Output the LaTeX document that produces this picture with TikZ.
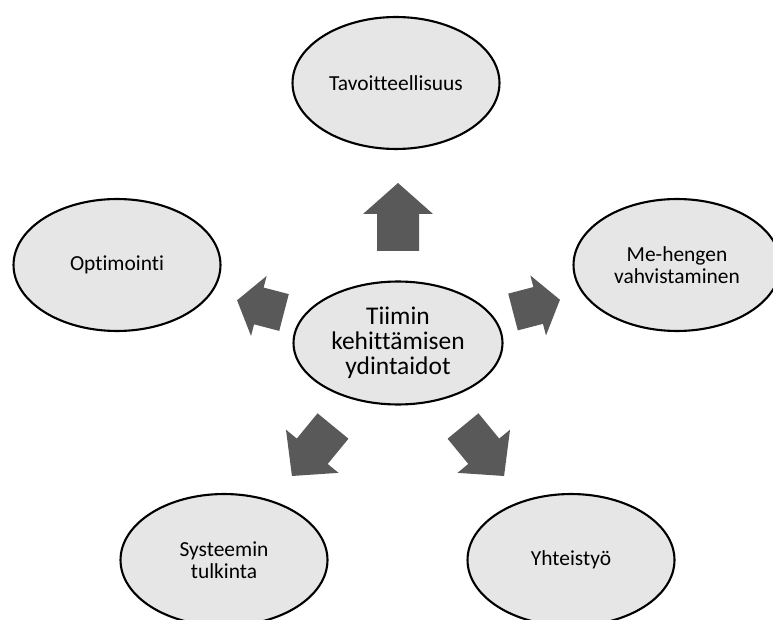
\documentclass[tikz,border=0pt]{standalone}
\usepackage{fontspec}
\setmainfont{Carlito}[Ligatures={NoCommon}]
\usetikzlibrary{shapes.geometric}

\definecolor{ovalfill}{RGB}{230,230,230}
\definecolor{arrowfill}{RGB}{89,89,89}

\begin{document}
\begin{tikzpicture}[x=0.02cm,y=0.02cm,
        skill/.style={ellipse,draw=black,line width=1.2pt,fill=ovalfill,
            minimum width=4.14cm,minimum height=2.64cm,inner sep=0pt,align=center,
            font=\fontsize{12.2}{12.5}\selectfont},
        core/.style={skill,minimum width=4.18cm,minimum height=2.46cm,
            font=\fontsize{14.5}{14.2}\selectfont},
        blockarrow/.style={fill=arrowfill}]
        \useasboundingbox (0,0) rectangle (773,619);
        \clip (0,0) rectangle (773,619);

        \node[core]  (ydin)     at (398,276) {Tiimin\\kehittämisen\\ydintaidot};
        \node[skill] (tavoite)  at (396,536) {Tavoitteellisuus};
        \node[skill] (optim)    at (117,354) {Optimointi};
        \node[skill] (mehenki)  at (677,354) {Me-hengen\\vahvistaminen};
        \node[skill] (systeemi) at (224,59)  {Systeemin\\tulkinta};
        \node[skill] (yhteis)   at (571,59)  {Yhteistyö};

        % block arrows out of the core
        \fill[blockarrow,shift={(398,368)},rotate=90]
            (0,-21) -- (37,-21) -- (37,-35) -- (68,0) -- (37,35) -- (37,21) -- (0,21) -- cycle;
        \fill[blockarrow,shift={(284,306.5)},rotate=165.4]
            (0,-19) -- (26,-19) -- (26,-31) -- (48.5,0) -- (26,31) -- (26,19) -- (0,19) -- cycle;
        \fill[blockarrow,shift={(513,307)},rotate=14.6]
            (0,-19) -- (26,-19) -- (26,-31) -- (48.5,0) -- (26,31) -- (26,19) -- (0,19) -- cycle;
        \fill[blockarrow,shift={(333,193)},rotate=230.6]
            (0,-20) -- (32.7,-20) -- (32.7,-34) -- (64.7,0) -- (32.7,34) -- (32.7,20) -- (0,20) -- cycle;
        \fill[blockarrow,shift={(463,193)},rotate=309.4]
            (0,-20) -- (32.7,-20) -- (32.7,-34) -- (64.7,0) -- (32.7,34) -- (32.7,20) -- (0,20) -- cycle;
    \end{tikzpicture}
\end{document}
